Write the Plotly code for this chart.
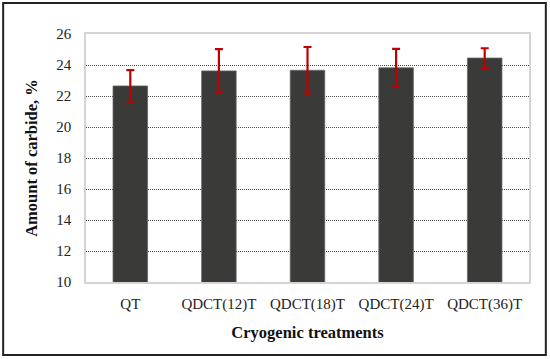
import plotly.graph_objects as go

categories = ["QT", "QDCT(12)T", "QDCT(18)T", "QDCT(24)T", "QDCT(36)T"]
values = [22.65, 23.62, 23.66, 23.82, 24.45]
errors = [1.02, 1.40, 1.50, 1.22, 0.63]
y_ticks = [10, 12, 14, 16, 18, 20, 22, 24, 26]

font_family = "Liberation Serif"

fig = go.Figure()
fig.add_trace(go.Bar(
    x=categories, y=values,
    marker=dict(color="#3a3a38", line=dict(color="#6a6a6a", width=0.8)),
    error_y=dict(type="data", array=errors, visible=True,
                 color="#c00000", thickness=2.2, width=4),
    width=0.39,
))

fig.update_layout(
    width=550, height=359,
    margin=dict(l=86, r=21, t=34, b=77),
    paper_bgcolor="white", plot_bgcolor="white",
    font=dict(family=font_family, size=15, color="#222"),
    showlegend=False,
    xaxis=dict(
        showgrid=False, showline=True, linecolor="#d4d4d4", linewidth=1.5,
        mirror=True, ticks="", ticklabelstandoff=7,
        tickfont=dict(size=15, family=font_family, color="#222"),
        title=dict(text="<b>Cryogenic treatments</b>", standoff=15,
                   font=dict(size=16.5, family=font_family, color="#111")),
    ),
    yaxis=dict(
        range=[10, 26], tickvals=y_ticks,
        showgrid=True, gridcolor="#4a4a4a", griddash="1px,1px", gridwidth=1,
        showline=True, linecolor="#d4d4d4", linewidth=1.5, mirror=True,
        ticks="", ticklabelstandoff=10, zeroline=False,
        tickfont=dict(size=15, family=font_family, color="#222"),
        title=dict(text="<b>Amount of carbide, %</b>", standoff=14,
                   font=dict(size=16.5, family=font_family, color="#111")),
    ),
    shapes=[dict(type="rect", xref="paper", yref="paper",
                 x0=-0.187, x1=1.038, y0=-0.294, y1=1.125,
                 line=dict(color="#222", width=2), layer="below")],
)

fig.write_html("out.html", config={"displayModeBar": False},
               post_script="document.body.style.margin='0';")
